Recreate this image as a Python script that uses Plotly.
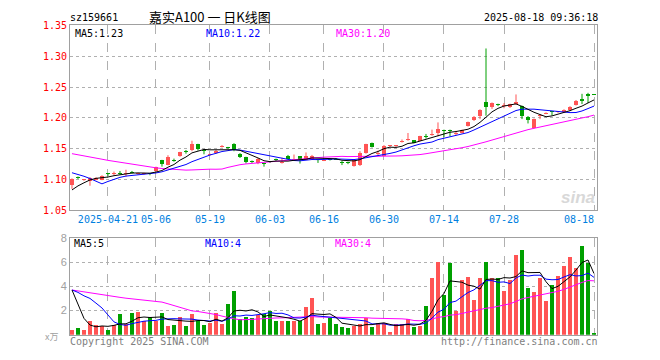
import plotly.graph_objects as go
import pandas as pd

# ---------------- data ----------------
holidays = ['2025-05-01', '2025-05-02', '2025-05-05', '2025-06-02']
dates = [d.strftime('%Y-%m-%d') for d in pd.bdate_range('2025-04-11', '2025-08-18')
         if d.strftime('%Y-%m-%d') not in holidays]

open_ = [1.092, 1.1035, 1.099, 1.097, 1.100, 1.100, 1.1092, 1.1095, 1.1108, 1.109,
         1.1122, 1.109, 1.109, 1.1092, 1.114, 1.1316, 1.124, 1.1318, 1.138, 1.1462,
         1.1474, 1.157, 1.1465, 1.140, 1.143, 1.153, 1.1518, 1.158, 1.142, 1.136,
         1.1292, 1.1263, 1.1262, 1.1288, 1.1325, 1.128, 1.139, 1.1318, 1.1375, 1.1323,
         1.134, 1.1325, 1.131, 1.1325, 1.1332, 1.1272, 1.1272, 1.122, 1.1234, 1.1427,
         1.159, 1.142, 1.139, 1.154, 1.154, 1.162, 1.165, 1.1635, 1.163, 1.1705,
         1.172, 1.1755, 1.180, 1.180, 1.175, 1.1755, 1.187, 1.1963, 1.203, 1.226,
         1.217, 1.2215, 1.219, 1.217, 1.2224, 1.2187, 1.2015, 1.1843, 1.2035, 1.2075,
         1.2104, 1.2093, 1.2093, 1.212, 1.2208, 1.2302, 1.238, 1.2382]
high = [1.102, 1.105, 1.101, 1.104, 1.104, 1.107, 1.110, 1.113, 1.114, 1.116,
        1.114, 1.111, 1.111, 1.110, 1.121, 1.132, 1.1395, 1.134, 1.145, 1.148,
        1.163, 1.158, 1.148, 1.142, 1.148, 1.156, 1.153, 1.159, 1.143, 1.137,
        1.131, 1.135, 1.127, 1.130, 1.134, 1.1354, 1.140, 1.1406, 1.138, 1.144,
        1.140, 1.133, 1.133, 1.134, 1.135, 1.130, 1.129, 1.133, 1.146, 1.158,
        1.160, 1.147, 1.156, 1.156, 1.156, 1.165, 1.1755, 1.164, 1.171, 1.174,
        1.181, 1.1927, 1.181, 1.181, 1.179, 1.181, 1.194, 1.203, 1.214, 1.3125,
        1.225, 1.223, 1.224, 1.223, 1.238, 1.220, 1.203, 1.199, 1.206, 1.209,
        1.211, 1.211, 1.214, 1.219, 1.229, 1.239, 1.2406, 1.2382]
low = [1.085, 1.101, 1.098, 1.090, 1.099, 1.099, 1.106, 1.1065, 1.108, 1.105,
       1.110, 1.108, 1.108, 1.107, 1.113, 1.121, 1.123, 1.129, 1.137, 1.142,
       1.146, 1.147, 1.141, 1.139, 1.142, 1.152, 1.150, 1.146, 1.135, 1.126,
       1.127, 1.125, 1.121, 1.127, 1.130, 1.126, 1.133, 1.131, 1.126, 1.132,
       1.133, 1.127, 1.130, 1.131, 1.132, 1.1235, 1.125, 1.121, 1.122, 1.142,
       1.152, 1.1375, 1.138, 1.153, 1.153, 1.160, 1.163, 1.159, 1.1625, 1.1665,
       1.171, 1.170, 1.1687, 1.170, 1.172, 1.175, 1.186, 1.195, 1.198, 1.2035,
       1.2145, 1.219, 1.2156, 1.216, 1.221, 1.198, 1.191, 1.183, 1.198, 1.206,
       1.204, 1.208, 1.209, 1.211, 1.220, 1.2224, 1.224, 1.2375]
close = [1.101, 1.103, 1.100, 1.103, 1.103, 1.106, 1.109, 1.1105, 1.1105, 1.111,
         1.112, 1.110, 1.110, 1.109, 1.120, 1.1247, 1.137, 1.1316, 1.144, 1.146,
         1.158, 1.150, 1.1463, 1.141, 1.147, 1.154, 1.1516, 1.1485, 1.136, 1.128,
         1.129, 1.134, 1.126, 1.1286, 1.1323, 1.129, 1.1338, 1.1325, 1.1312, 1.139,
         1.139, 1.1323, 1.132, 1.1323, 1.133, 1.127, 1.127, 1.132, 1.1427, 1.157,
         1.153, 1.143, 1.1547, 1.155, 1.155, 1.1625, 1.1655, 1.160, 1.170, 1.170,
         1.173, 1.1817, 1.1796, 1.1795, 1.1755, 1.1807, 1.1927, 1.2015, 1.2135, 1.217,
         1.224, 1.2213, 1.220, 1.2224, 1.226, 1.203, 1.1963, 1.1979, 1.204, 1.208,
         1.210, 1.210, 1.2135, 1.217, 1.2276, 1.2276, 1.2354, 1.238]
volume = [0.4, 0.55, 0.4, 1.1, 0.8, 0.75, 0.4, 0.8, 1.7, 0.85,
          1.8, 1.85, 1.1, 1.5, 1.1, 1.8, 0.75, 0.8, 1.5, 0.75,
          1.7, 1.1, 0.8, 1.0, 1.8, 0.9, 2.5, 3.6, 1.3, 1.5,
          1.4, 1.6, 1.7, 1.95, 1.1, 1.1, 1.1, 1.15, 1.15, 2.3,
          3.0, 0.9, 1.0, 1.4, 0.85, 0.6, 0.55, 0.7, 0.9, 1.4,
          0.6, 1.0, 1.0, 0.25, 0.85, 0.85, 1.3, 0.65, 0.7, 2.4,
          4.65, 6.0, 3.3, 5.9, 2.0, 4.5, 4.8, 2.85, 4.7, 6.0,
          4.65, 4.65, 3.6, 4.55, 6.6, 7.0, 3.9, 3.55, 4.7, 2.75,
          4.15, 4.85, 5.7, 6.45, 5.55, 7.3, 5.9, 0.1]

# estimated sessions before the visible window (feed the moving averages only)
prior_close = [1.150, 1.155, 1.160, 1.158, 1.162, 1.165, 1.160, 1.155, 1.158, 1.162,
               1.160, 1.155, 1.150, 1.155, 1.160, 1.158, 1.162, 1.160, 1.155, 1.150,
               1.130, 1.130, 1.140, 1.150, 1.145, 1.070, 1.075, 1.080, 1.090]
prior_volume = [3.0, 3.2, 2.9, 3.3, 3.1, 3.0, 3.2, 3.1, 2.9, 3.2, 3.0, 3.3, 3.1, 3.0, 3.2,
                5.0, 5.5, 6.0, 5.5, 5.4, 2.55, 3.25, 3.25, 4.7, 4.75, 6.2, 6.5, 3.85, 1.55]

tick_dates = ['2025-04-21', '2025-05-06', '2025-05-19', '2025-06-03', '2025-06-16',
              '2025-06-30', '2025-07-14', '2025-07-28', '2025-08-18']
tick_text = ['2025-04-21', '05-06', '05-19', '06-03', '06-16', '06-30', '07-14', '07-28', '']
price_ticks = [1.05, 1.10, 1.15, 1.20, 1.25, 1.30, 1.35]
vol_ticks = [2, 4, 6, 8]

assert len(dates) == len(open_) == len(high) == len(low) == len(close) == len(volume) == 88

# ---------------- helpers ----------------
W, H = 660, 360
def px(x): return x / W
def py(y): return 1 - y / H

def ma(prior, vals, n):
    s = pd.Series(list(prior) + list(vals)).rolling(n).mean()
    return s.iloc[len(prior):].tolist()

UP, DN = '#FF5454', '#00A000'
MONO = 'DejaVu Sans Mono'
cols = [UP if c > o else DN for o, c in zip(open_, close)]

fig = go.Figure()

# bodies (first, so category order follows the dates)
minh = 0.0016
bases = [min(o, c) if abs(c - o) >= minh else (o + c) / 2 - minh / 2 for o, c in zip(open_, close)]
heights = [max(abs(c - o), minh) for o, c in zip(open_, close)]
fig.add_trace(go.Bar(x=dates, y=heights, base=bases, width=0.8, marker=dict(color=cols, line=dict(width=0)),
                     xaxis='x', yaxis='y', hoverinfo='skip'))

# wicks
for color in (UP, DN):
    xs, ys = [], []
    for d, h, l, c in zip(dates, high, low, cols):
        if c == color:
            xs += [d, d, None]
            ys += [l, h, None]
    fig.add_trace(go.Scatter(x=xs, y=ys, mode='lines', line=dict(color=color, width=1),
                             xaxis='x', yaxis='y', hoverinfo='skip'))

# price MAs
for n, color in ((30, '#FF00FF'), (10, '#0000FF'), (5, '#000000')):
    fig.add_trace(go.Scatter(x=dates, y=ma(prior_close, close, n), mode='lines',
                             line=dict(color=color, width=1), xaxis='x', yaxis='y', hoverinfo='skip'))

# volume
fig.add_trace(go.Bar(x=dates, y=volume, width=0.8, marker=dict(color=cols, line=dict(width=0)),
                     xaxis='x2', yaxis='y2', hoverinfo='skip'))
for n, color in ((30, '#FF00FF'), (10, '#0000FF'), (5, '#000000')):
    fig.add_trace(go.Scatter(x=dates, y=ma(prior_volume, volume, n), mode='lines',
                             line=dict(color=color, width=1), xaxis='x2', yaxis='y2', hoverinfo='skip'))

xdom = [px(70), px(597)]
xr = [-0.33, 87.5]
common_x = dict(domain=xdom, type='category', categoryorder='array', categoryarray=dates,
                range=xr, tickvals=tick_dates, tickangle=0,
                showgrid=True, gridcolor='#B0B0B0', griddash='dash', gridwidth=1,
                showline=True, mirror=True, linecolor='#A0A0A0', linewidth=1,
                ticks='', zeroline=False, fixedrange=True)

fig.update_layout(
    width=W, height=H, margin=dict(l=0, r=0, t=0, b=0),
    paper_bgcolor='white', plot_bgcolor='white', showlegend=False,
    barmode='overlay', bargap=0,
    xaxis=dict(**common_x, anchor='y', ticktext=tick_text,
               tickfont=dict(family=MONO, size=10, color='#0080E0')),
    yaxis=dict(domain=[py(211.5), py(20)], range=[1.05, 1.35], tickvals=price_ticks,
               ticktext=['%.2f' % v for v in price_ticks],
               tickfont=dict(family=MONO, size=10, color='#FF0000'),
               showgrid=True, gridcolor='#B0B0B0', griddash='dot', gridwidth=1,
               showline=True, mirror=True, linecolor='#A0A0A0', linewidth=1,
               ticks='', zeroline=False, anchor='x', fixedrange=True),
    xaxis2=dict(**common_x, anchor='y2', showticklabels=False),
    yaxis2=dict(domain=[py(340), py(240)], range=[0, 8], tickvals=vol_ticks,
                ticktext=[str(v) for v in vol_ticks],
                tickfont=dict(family='Liberation Sans', size=11, color='#A0A0A0'),
                showgrid=True, gridcolor='#B0B0B0', griddash='dot', gridwidth=1,
                showline=True, mirror=True, linecolor='#A0A0A0', linewidth=1,
                ticks='', zeroline=False, anchor='x2', fixedrange=True),
)

def note(text, x, y, anchor='left', color='#000', size=10, family=MONO, **kw):
    fig.add_annotation(text=text, x=px(x), y=py(y), xref='paper', yref='paper',
                       xanchor=anchor, yanchor='middle', showarrow=False, borderpad=0,
                       font=dict(family=family, size=size, color=color), **kw)

note('sz159661', 69, 12)
note('嘉实A100 一 日K线图', 148, 11, size=13, family='Noto Sans CJK SC')
note('2025-08-18 09:36:18', 599, 12, anchor='right')
note('MA5:1.23', 74, 28)
note('MA10:1.22', 205, 28, color='#0000FF')
note('MA30:1.20', 335, 28, color='#FF00FF')
note('MA5:5', 73, 246)
note('MA10:4', 204, 246, color='#0000FF')
note('MA30:4', 334, 246, color='#FF00FF')
note('08-18', 579, 221, anchor='center', color='#0080E0')
note('Copyright 2025 SINA.COM', 69, 347, color='#808080')
note('http://finance.sina.com.cn', 599, 347, anchor='right', color='#808080')
note('x万', 59, 342, anchor='right', color='#A0A0A0', size=9, family='Noto Sans CJK SC')
note('<i><b>sina</b></i>', 596, 198, anchor='right', color='#D8D8D8', size=17, family='Liberation Sans')

fig.write_html('out.html', config={'displayModeBar': False, 'staticPlot': True},
               post_script="document.body.style.margin='0px';document.body.style.overflow='hidden';")
